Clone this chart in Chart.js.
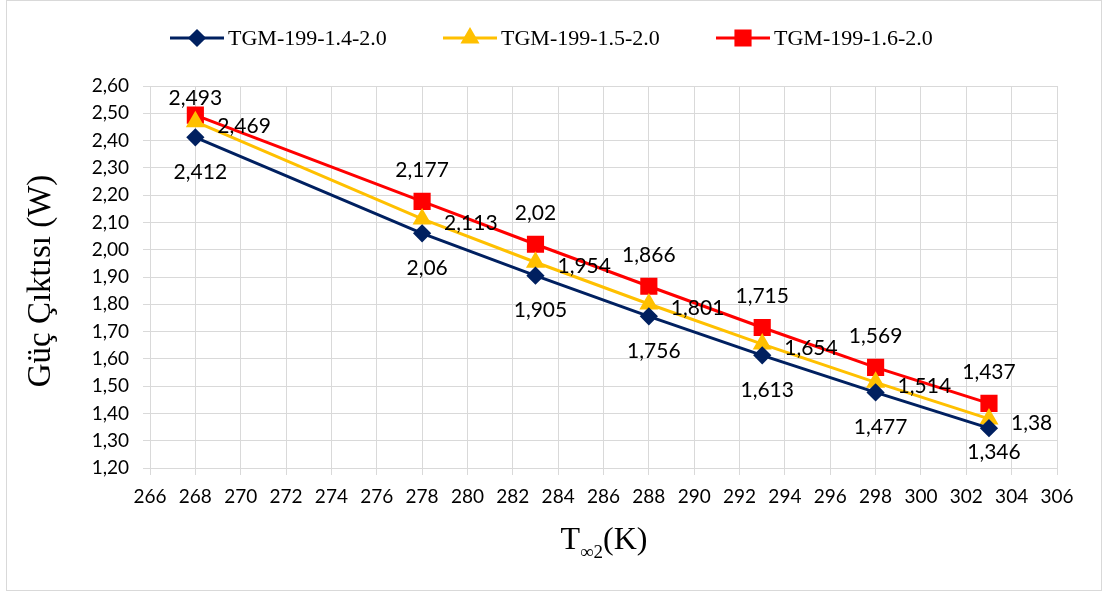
<!DOCTYPE html>
<html>
<head>
<meta charset="utf-8">
<script src="https://cdn.jsdelivr.net/npm/chart.js@4/dist/chart.umd.min.js"></script>
<style>
    html, body { margin: 0; padding: 0; background: #ffffff; }
    #wrap { width: 1103px; height: 592px; position: relative; }
</style>
</head>
<body>
<div id="wrap"><canvas id="powerChart" width="1103" height="592"></canvas></div>
<script>
// Ambient temperature (K)
const temperatures = [268, 278, 283, 288, 293, 298, 303];

// Power output (W) per module
const tgm14 = [2.412, 2.06, 1.905, 1.756, 1.613, 1.477, 1.346];
const tgm15 = [2.469, 2.113, 1.954, 1.801, 1.654, 1.514, 1.38];
const tgm16 = [2.493, 2.177, 2.02, 1.866, 1.715, 1.569, 1.437];

const seriesNames = ['TGM-199-1.4-2.0', 'TGM-199-1.5-2.0', 'TGM-199-1.6-2.0'];

const yTitle = 'Güç Çıktısı (W)';

const navy = '#002060';
const yellow = '#FFC000';
const red = '#FF0000';
const gridGray = '#d9d9d9';

function toPoints(values) {
    return temperatures.map((t, i) => ({ x: t, y: values[i] }));
}

function commaNum(v) {
    return String(v).replace('.', ',');
}

// value labels: first series under the marker, second to the right, third above
const valueLabels = {
    id: 'valueLabels',
    afterDatasetsDraw(chart) {
        const ctx = chart.ctx;
        const area = chart.chartArea;
        ctx.save();
        ctx.font = '21px Lato';
        ctx.fillStyle = '#000000';
        chart.data.datasets.forEach((ds, di) => {
            const meta = chart.getDatasetMeta(di);
            meta.data.forEach((pt, i) => {
                const txt = commaNum(ds.data[i].y);
                ctx.textBaseline = 'middle';
                if (ds.labelPos === 'below') {
                    ctx.textAlign = 'center';
                    const dy = Math.min(pt.y + 35, area.bottom - 16);
                    ctx.fillText(txt, pt.x + 5, dy);
                } else if (ds.labelPos === 'right') {
                    ctx.textAlign = 'left';
                    ctx.fillText(txt, pt.x + 22, pt.y + 4);
                } else {
                    ctx.textAlign = 'center';
                    const dy = Math.max(pt.y - 31, area.top + 12);
                    ctx.fillText(txt, pt.x, dy);
                }
            });
        });
        ctx.restore();
    }
};

// outer frame, legend with line + marker, and both axis titles
const decorations = {
    id: 'decorations',
    beforeDraw(chart) {
        const ctx = chart.ctx;
        ctx.save();
        ctx.fillStyle = '#ffffff';
        ctx.fillRect(0, 0, chart.width, chart.height);
        ctx.strokeStyle = gridGray;
        ctx.lineWidth = 1;
        ctx.strokeRect(6.5, 0.5, chart.width - 8, chart.height - 2);
        ctx.restore();
    },
    afterDraw(chart) {
        const ctx = chart.ctx;
        ctx.save();

        // legend
        ctx.font = '22px "Liberation Serif"';
        ctx.textBaseline = 'middle';
        ctx.textAlign = 'left';
        const lineLen = 54;
        const step = 273;
        const ly = 38;
        chart.data.datasets.forEach((ds, i) => {
            const x = 170 + step * i;
            ctx.strokeStyle = ds.borderColor;
            ctx.lineWidth = 3;
            ctx.beginPath();
            ctx.moveTo(x, ly);
            ctx.lineTo(x + lineLen, ly);
            ctx.stroke();
            Chart.helpers.drawPoint(ctx, {
                pointStyle: ds.pointStyle,
                radius: ds.pointRadius,
                borderWidth: 1
            }, x + lineLen / 2, ly);
            ctx.fillStyle = ds.borderColor;
            ctx.fill();
            ctx.fillStyle = '#000000';
            ctx.fillText(seriesNames[i], x + lineLen + 4, ly + 1);
        });

        // y axis title
        ctx.save();
        ctx.translate(41, 281);
        ctx.rotate(-Math.PI / 2);
        ctx.font = '33px "Liberation Serif"';
        ctx.textAlign = 'center';
        ctx.textBaseline = 'middle';
        ctx.fillStyle = '#000000';
        ctx.fillText(yTitle, 0, 0);
        ctx.restore();

        // x axis title: T with subscript ∞2, then (K)
        ctx.fillStyle = '#000000';
        ctx.textBaseline = 'alphabetic';
        ctx.textAlign = 'left';
        const big = '32px "Liberation Serif"';
        const small = '19px "Liberation Serif"';
        ctx.font = big;
        const wT = ctx.measureText('T').width;
        const wK = ctx.measureText('(K)').width;
        ctx.font = small;
        const wSub = ctx.measureText('∞2').width;
        let tx = 604 - (wT + wSub + wK) / 2;
        const base = 549;
        ctx.font = big;
        ctx.fillText('T', tx, base);
        tx += wT;
        ctx.font = small;
        ctx.fillText('∞2', tx, base + 9);
        tx += wSub;
        ctx.font = big;
        ctx.fillText('(K)', tx, base);

        ctx.restore();
    }
};

function makeSeries(values, color, style, radius, labelPos) {
    return {
        data: toPoints(values),
        borderColor: color,
        backgroundColor: color,
        borderWidth: 3,
        pointStyle: style,
        pointRadius: radius,
        pointHoverRadius: radius,
        pointBackgroundColor: color,
        pointBorderColor: color,
        tension: 0,
        labelPos: labelPos
    };
}

const ctx = document.getElementById('powerChart').getContext('2d');

new Chart(ctx, {
    type: 'line',
    data: {
        datasets: [
            makeSeries(tgm14, navy, 'rectRot', 7, 'below'),
            makeSeries(tgm15, yellow, 'triangle', 8, 'right'),
            makeSeries(tgm16, red, 'rect', 10, 'above')
        ]
    },
    options: {
        responsive: false,
        animation: false,
        layout: { padding: { top: 86, right: 46, left: 0, bottom: 0 } },
        plugins: {
            legend: { display: false },
            tooltip: { enabled: false }
        },
        scales: {
            x: {
                type: 'linear',
                min: 266,
                max: 306,
                afterFit: s => { s.height = 124; },
                ticks: {
                    stepSize: 2,
                    autoSkip: false,
                    maxRotation: 0,
                    padding: 10,
                    color: '#000000',
                    font: { family: 'Lato', size: 19 }
                },
                grid: { color: gridGray, tickLength: 7, tickColor: gridGray },
                border: { color: gridGray }
            },
            y: {
                min: 1.2,
                max: 2.6,
                afterFit: s => { s.width = 150; },
                ticks: {
                    stepSize: 0.1,
                    padding: 14,
                    color: '#000000',
                    font: { family: 'Lato', size: 19 },
                    callback: v => v.toFixed(2).replace('.', ',')
                },
                grid: { color: gridGray, tickLength: 7, tickColor: gridGray },
                border: { color: gridGray }
            }
        }
    },
    plugins: [decorations, valueLabels]
});
</script>
</body>
</html>
